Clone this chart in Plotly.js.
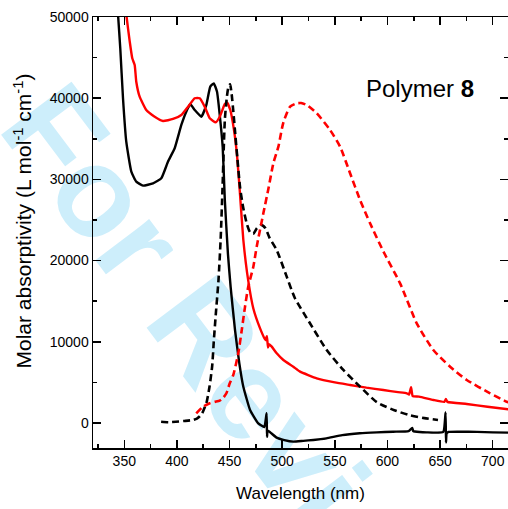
<!DOCTYPE html>
<html>
<head>
<meta charset="utf-8">
<script src="https://cdn.plot.ly/plotly-3.0.1.min.js"></script>
<style>
html,body{margin:0;padding:0;background:#fff;}
#wrap{position:relative;width:508px;height:509px;overflow:hidden;}
#wm{position:absolute;left:0;top:0;z-index:0;}
#chart{position:absolute;left:0;top:0;width:508px;height:509px;z-index:1;}
</style>
</head>
<body>
<div id="wrap">
<svg id="wm" width="508" height="509"><text transform="translate(-4,128) rotate(53)" font-family="Liberation Sans, Arial, sans-serif" font-weight="bold" font-size="128" fill="#cdeefb">For Review</text></svg>
<div id="chart"></div>
</div>
<script>
// Absorption (solid black)
const absBlackX = [343.0, 344.1, 346.2, 348.8, 351.9, 356.7, 361.4, 367.8, 377.3, 385.2, 391.5, 397.9, 404.2, 408.9, 412.7, 416.9, 423.2, 427.9, 431.7, 435.0, 438.1, 440.7, 443.5, 445.5, 448.5, 451.0, 455.2, 459.3, 463.1, 469.5, 477.3, 483.0, 485.2, 485.6, 486.2, 490.0, 494.8, 502.0, 510.6, 520.0, 529.6, 542.0, 557.0, 573.7, 590.0, 605.3, 620.0, 623.5, 624.5, 626.0, 637.0, 653.0, 655.2, 655.6, 656.2, 658.0, 668.7, 685.0, 700.0, 714.6];
const absBlackY = [52000, 50250, 46150, 40000, 34640, 30950, 29720, 29230, 29520, 30140, 32180, 33830, 36700, 38340, 39250, 38550, 37720, 39160, 41420, 41830, 40800, 37930, 34000, 27500, 20800, 16800, 11450, 7350, 4470, 1600, -40, -500, 1200, -1700, -900, -1300, -1800, -2100, -2300, -2200, -2090, -1890, -1500, -1270, -1150, -1070, -1000, -600, -1000, -1050, -1150, -1100, 1300, -2400, -1300, -1100, -1070, -1100, -1150, -1190];
// Absorption (solid red)
const absRedX = [351.0, 352.0, 355.2, 357.6, 359.9, 361.4, 364.6, 370.9, 378.9, 386.8, 396.3, 404.2, 410.6, 416.9, 421.7, 426.4, 431.2, 436.9, 440.7, 445.4, 447.6, 450.7, 454.0, 457.1, 459.7, 463.1, 467.8, 472.6, 479.0, 484.0, 485.5, 486.5, 487.5, 490.1, 494.8, 501.1, 510.6, 517.0, 532.8, 550.0, 564.5, 580.0, 596.1, 610.0, 618.3, 620.5, 622.4, 624.0, 630.0, 643.6, 654.0, 655.5, 657.0, 675.3, 695.0, 714.9];
const absRedY = [52000, 50250, 46960, 44910, 44090, 42030, 40185, 38545, 37720, 37190, 37440, 37930, 38955, 39990, 39990, 38955, 37525, 37030, 37720, 39250, 39495, 38545, 36290, 33000, 28600, 22540, 17500, 14100, 11650, 10200, 10700, 9300, 9700, 9400, 8580, 7760, 6930, 6320, 5500, 5000, 4680, 4350, 4060, 3800, 3660, 3500, 4400, 3300, 3250, 2830, 2600, 2950, 2600, 2340, 2000, 1690];
// Emission (dashed black)
const emBlackX = [385, 392, 399, 407, 415, 419, 421.5, 424, 426, 428, 431, 433.5, 435, 437, 439.5, 441.5, 443.3, 444.5, 445.6, 447.5, 449, 450.5, 452, 453.5, 455.5, 457.5, 460, 463, 466.5, 469.5, 472.5, 476, 480, 484, 488, 494.8, 504.3, 512, 526.4, 542.3, 558.1, 574, 590, 605, 620, 635, 648];
const emBlackY = [160, 100, 160, 250, 370, 550, 800, 1200, 1800, 2430, 4500, 7000, 10000, 13500, 17600, 22500, 28800, 33800, 37500, 40200, 41400, 41700, 40500, 38500, 35500, 32500, 29000, 26500, 24500, 23500, 23300, 24000, 24400, 24000, 22800, 21300, 18020, 15400, 12280, 8990, 6530, 4470, 2550, 1650, 1000, 600, 370];
// Emission (dashed red)
const emRedX = [418.4, 424.8, 431.2, 436, 440.7, 444, 447, 450.2, 453.5, 458.3, 461.6, 464.7, 467.8, 472.6, 475.8, 482.1, 487, 491.6, 496.4, 501.1, 507.5, 513.8, 518, 523.3, 532.8, 545.5, 555, 564.5, 574, 583.5, 597, 612, 627.8, 643.6, 659.5, 675.3, 697.5, 713.3, 716];
const emRedY = [1190, 2010, 2430, 2600, 2750, 3100, 3660, 4890, 5900, 8580, 11450, 14320, 16800, 19250, 21710, 25820, 28900, 31980, 34030, 37000, 38955, 39370, 39400, 39160, 38140, 36080, 34030, 30750, 27460, 24590, 20900, 17200, 12280, 8990, 6930, 5300, 3660, 2620, 2500];

const xTickVals = [350, 400, 450, 500, 550, 600, 650, 700];
const yTickVals = [0, 10000, 20000, 30000, 40000, 50000];
const labelText = 'Polymer <b>8</b>';

const FONT = 'Liberation Sans, Arial, sans-serif';
const traces = [
  {x: absBlackX, y: absBlackY, mode: 'lines', line: {color: '#000', width: 2.4, shape: 'spline', smoothing: 0.4}},
  {x: absRedX, y: absRedY, mode: 'lines', line: {color: '#ff0000', width: 2.4, shape: 'spline', smoothing: 0.4}},
  {x: emBlackX, y: emBlackY, mode: 'lines', line: {color: '#000', width: 2.6, dash: '7px,4px', shape: 'spline', smoothing: 0.6}},
  {x: emRedX, y: emRedY, mode: 'lines', line: {color: '#ff0000', width: 2.6, dash: '7px,4px', shape: 'spline', smoothing: 0.6}}
];
const axisCommon = {
  showline: true, linecolor: '#000', linewidth: 1.5, mirror: 'allticks',
  ticks: 'inside', tickcolor: '#000', tickwidth: 1.5, ticklen: 8,
  showgrid: false, zeroline: false,
  tickfont: {family: FONT, size: 14, color: '#000'}
};
const layout = {
  width: 508, height: 509,
  margin: {l: 93, r: 0, t: 17, b: 61},
  paper_bgcolor: 'rgba(0,0,0,0)', plot_bgcolor: 'rgba(0,0,0,0)',
  showlegend: false,
  xaxis: Object.assign({}, axisCommon, {
    range: [320.3, 714.5], tickvals: xTickVals,
    minor: {dtick: 25, tick0: 325, ticks: 'inside', ticklen: 4, tickcolor: '#000', tickwidth: 1.5},
    title: {text: 'Wavelength (nm)', font: {family: FONT, size: 17, color: '#000'}, standoff: 19}
  }),
  yaxis: Object.assign({}, axisCommon, {
    range: [-3080, 50000], tickvals: yTickVals, tickformat: 'd',
    minor: {dtick: 5000, tick0: 0, ticks: 'inside', ticklen: 4, tickcolor: '#000', tickwidth: 1.5}
  }),
  annotations: [
    {xref: 'paper', yref: 'paper', x: (22 - 93) / 415, y: (448 - 221.5) / 431, xanchor: 'center', yanchor: 'middle',
     textangle: -90, showarrow: false,
     text: 'Molar absorptivity (L mol<sup>-1</sup> cm<sup>-1</sup>)', font: {family: FONT, size: 21, color: '#000'}},
    {xref: 'paper', yref: 'paper', x: (420 - 93) / 415, y: (448 - 88) / 431, xanchor: 'center', yanchor: 'middle',
     showarrow: false, text: labelText, font: {family: FONT, size: 24, color: '#000'}}
  ]
};
Plotly.newPlot('chart', traces, layout, {displayModeBar: false, staticPlot: true});
</script>
</body>
</html>
